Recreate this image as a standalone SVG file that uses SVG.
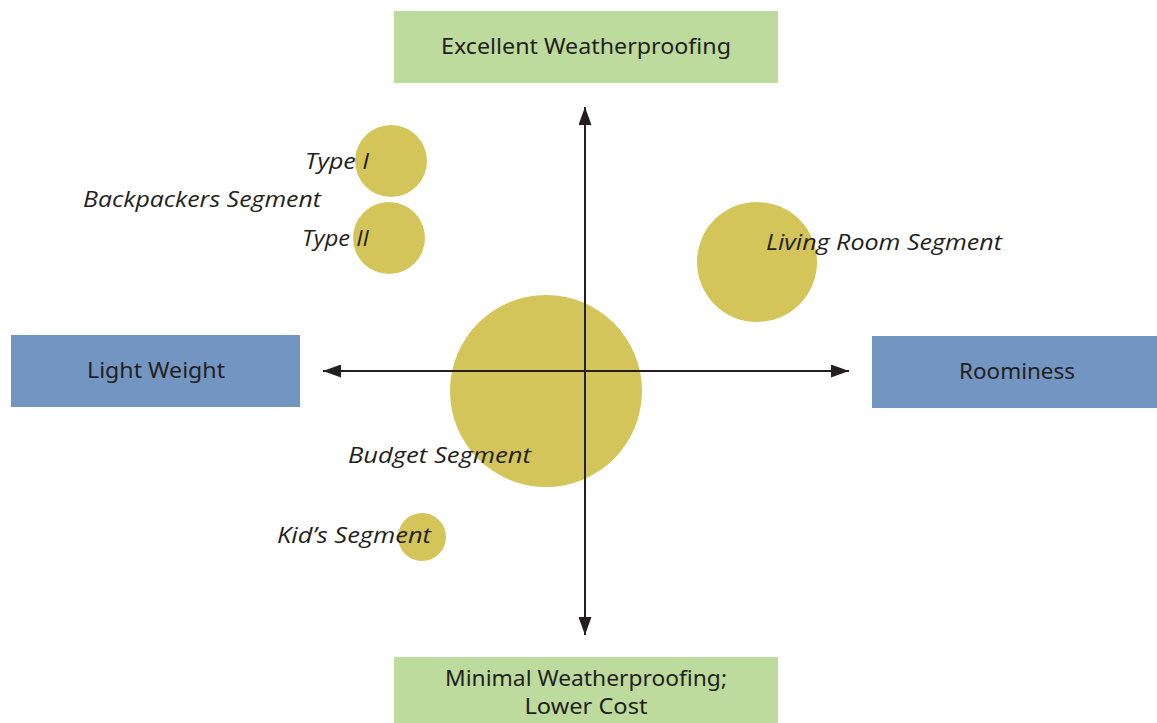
<svg xmlns="http://www.w3.org/2000/svg" width="1157" height="723" viewBox="0 0 1157 723">
  <style>
    .green { fill: #bcdb9c; }
    .blue { fill: #7395c2; }
    .bubble { fill: #d4c55a; }
    .box-label { font-family: "Noto Sans", "Liberation Sans", sans-serif; font-size: 22px; fill: #231f20; text-anchor: middle; }
    .seg-label { font-family: "Open Sans", "Noto Sans", sans-serif; font-size: 22px; font-style: italic; fill: #231f20; }
    .axis { stroke: #231f20; stroke-width: 2; fill: none; }
  </style>
  <defs>
    <marker id="arrow" viewBox="0 0 18 13" refX="18" refY="6.5" markerWidth="18" markerHeight="13" markerUnits="userSpaceOnUse" orient="auto-start-reverse">
      <path d="M0,0 L18,6.5 L0,13 Z" fill="#231f20"/>
    </marker>
  </defs>

  <rect width="1157" height="723" fill="#ffffff"/>

  <!-- market segment bubbles -->
  <g id="budget-segment">
    <circle class="bubble" cx="546" cy="391" r="96"/>
  </g>
  <g id="living-room-segment">
    <circle class="bubble" cx="757" cy="262" r="60"/>
  </g>
  <g id="type-1">
    <circle class="bubble" cx="391" cy="161" r="36"/>
  </g>
  <g id="type-2">
    <circle class="bubble" cx="389" cy="238" r="36"/>
  </g>
  <g id="kids-segment">
    <circle class="bubble" cx="422" cy="537" r="24"/>
  </g>

  <!-- perceptual axes -->
  <g id="connectors">
    <line class="axis" x1="585" y1="371" x2="585" y2="107" marker-end="url(#arrow)"/>
    <line class="axis" x1="585" y1="371" x2="585" y2="635" marker-end="url(#arrow)"/>
    <line class="axis" x1="585" y1="371" x2="323" y2="371" marker-end="url(#arrow)"/>
    <line class="axis" x1="585" y1="371" x2="849" y2="371" marker-end="url(#arrow)"/>
  </g>

  <!-- axis end boxes -->
  <g id="excellent-weatherproofing">
    <rect class="green" x="394" y="11" width="384" height="72"/>
    <text class="box-label" x="586" y="54" textLength="290" lengthAdjust="spacingAndGlyphs">Excellent Weatherproofing</text>
  </g>
  <g id="minimal-weatherproofing">
    <rect class="green" x="394" y="657" width="384" height="66"/>
    <text class="box-label" x="586" y="686" textLength="282" lengthAdjust="spacingAndGlyphs">Minimal Weatherproofing;</text>
    <text class="box-label" x="586" y="714" textLength="123" lengthAdjust="spacingAndGlyphs">Lower Cost</text>
  </g>
  <g id="light-weight">
    <rect class="blue" x="11" y="335" width="289" height="72"/>
    <text class="box-label" x="156" y="378" textLength="138" lengthAdjust="spacingAndGlyphs">Light Weight</text>
  </g>
  <g id="roominess">
    <rect class="blue" x="872" y="336" width="285" height="72"/>
    <text class="box-label" x="1017" y="379" textLength="116" lengthAdjust="spacingAndGlyphs">Roominess</text>
  </g>

  <!-- segment labels -->
  <g id="segment-labels">
    <text class="seg-label" x="305" y="169" textLength="64" lengthAdjust="spacingAndGlyphs">Type I</text>
    <text class="seg-label" x="83" y="207" textLength="238" lengthAdjust="spacingAndGlyphs">Backpackers Segment</text>
    <text class="seg-label" x="302" y="246" textLength="67" lengthAdjust="spacingAndGlyphs">Type II</text>
    <text class="seg-label" x="766" y="250" textLength="236" lengthAdjust="spacingAndGlyphs">Living Room Segment</text>
    <text class="seg-label" x="348" y="463" textLength="183" lengthAdjust="spacingAndGlyphs">Budget Segment</text>
    <text class="seg-label" x="277" y="543" textLength="154" lengthAdjust="spacingAndGlyphs">Kid’s Segment</text>
  </g>
</svg>
